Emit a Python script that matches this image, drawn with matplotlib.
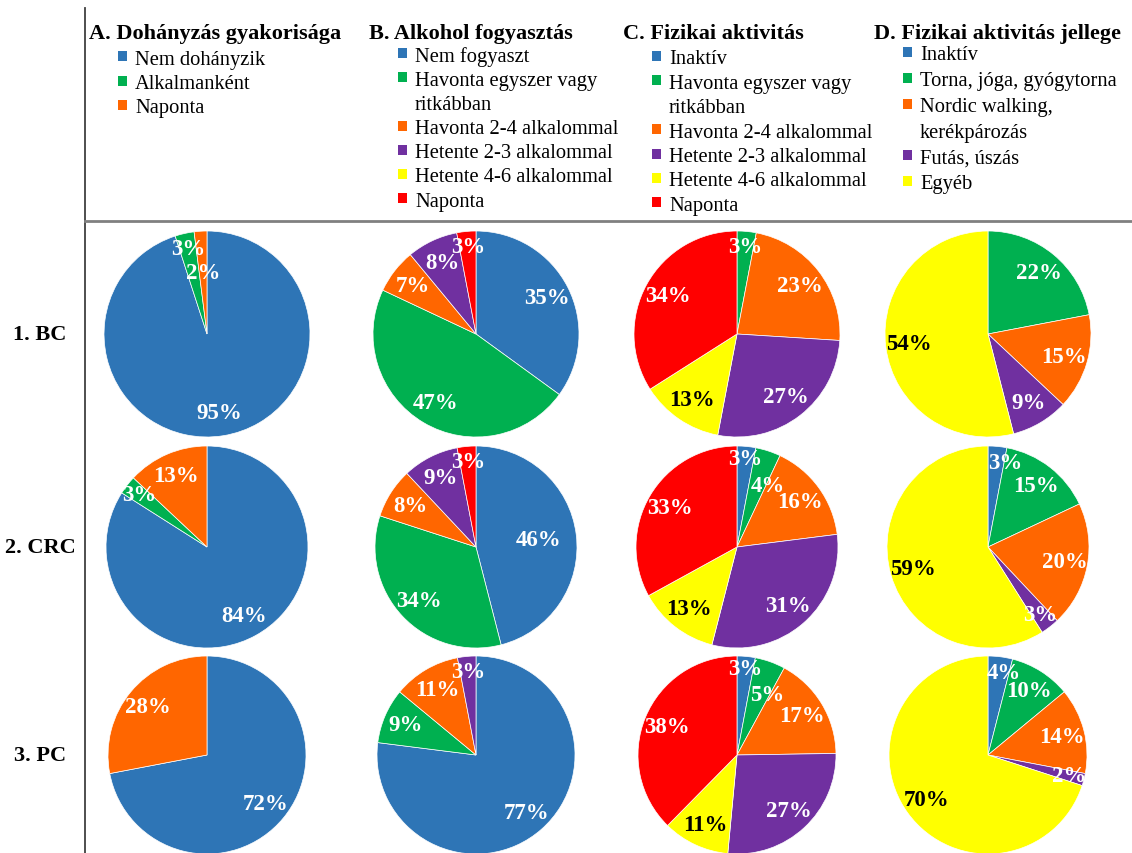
import numpy as np
import matplotlib
matplotlib.use('Agg')
import matplotlib.pyplot as plt
from matplotlib.patches import Rectangle

plt.rcParams['font.family'] = ['Liberation Serif', 'DejaVu Serif']

W, H = 1132, 854

BLUE = '#2E75B6'
GREEN = '#00B050'
ORANGE = '#FF6600'
PURPLE = '#7030A0'
YELLOW = '#FFFF00'
RED = '#FF0000'

groups = ['1. BC', '2. CRC', '3. PC']

# A - smoking
smoking_title = 'A. Dohányzás gyakorisága'
smoking_labels = ['Nem dohányzik', 'Alkalmanként', 'Naponta']
smoking = [[95, 3, 2], [84, 3, 13], [72, 0, 28]]

# B - alcohol
alcohol_title = 'B. Alkohol fogyasztás'
alcohol_labels = ['Nem fogyaszt', 'Havonta egyszer vagy\nritkábban',
                  'Havonta 2-4 alkalommal', 'Hetente 2-3 alkalommal',
                  'Hetente 4-6 alkalommal', 'Naponta']
alcohol = [[35, 47, 7, 8, 0, 3], [46, 34, 8, 9, 0, 3], [77, 9, 11, 3, 0, 0]]

# C - physical activity
activity_title = 'C. Fizikai aktivitás'
activity_labels = ['Inaktív', 'Havonta egyszer vagy\nritkábban',
                   'Havonta 2-4 alkalommal', 'Hetente 2-3 alkalommal',
                   'Hetente 4-6 alkalommal', 'Naponta']
activity = [[0, 3, 23, 27, 13, 34], [3, 4, 16, 31, 13, 33], [3, 5, 17, 27, 11, 38]]

# D - type of activity
type_title = 'D. Fizikai aktivitás jellege'
type_labels = ['Inaktív', 'Torna, jóga, gyógytorna', 'Nordic walking,\nkerékpározás',
               'Futás, úszás', 'Egyéb']
activity_type = [[0, 22, 15, 9, 54], [3, 15, 20, 3, 59], [4, 10, 14, 2, 70]]

panels = [
    (smoking_title, smoking_labels, smoking, [BLUE, GREEN, ORANGE]),
    (alcohol_title, alcohol_labels, alcohol, [BLUE, GREEN, ORANGE, PURPLE, YELLOW, RED]),
    (activity_title, activity_labels, activity, [BLUE, GREEN, ORANGE, PURPLE, YELLOW, RED]),
    (type_title, type_labels, activity_type, [BLUE, GREEN, ORANGE, PURPLE, YELLOW]),
]

# layout in pixels (origin top left)
col_x = [207, 476, 737, 988]
row_y = [335, 548, 756]
row_r = [103, 101, 99]
title_x = [89, 369, 623, 874]
legend_top = [60, 57, 60, 56]
legend_step = [24.5, 24.2, 24.4, 25.8]

# label placement tweaks (row, col, slice index) -> (fraction of radius, angle shift in deg)
label_pos = {(0, 0, 2): (0.6, 0), (1, 1, 0): (0.62, 0),
             (1, 2, 0): (0.88, 0), (1, 2, 1): (0.68, -9),
             (2, 2, 0): (0.88, 0), (2, 2, 1): (0.68, -7),
             (1, 3, 0): (0.85, -6), (2, 3, 0): (0.85, -4)}

fig = plt.figure(figsize=(W / 100, H / 100), dpi=100)
bg = fig.add_axes([0, 0, 1, 1])
bg.set_xlim(0, W)
bg.set_ylim(H, 0)
bg.axis('off')

# frame lines
bg.plot([85, 85], [9, H], color='#404040', lw=1.3)
bg.plot([85, W], [222, 222], color='#808080', lw=2)

# legends
for c, (title, labels, data, colors) in enumerate(panels):
    bg.text(title_x[c], 34, title, fontsize=16, fontweight='bold',
            ha='left', va='center')
    sq_x = title_x[c] + 29
    line = 0
    for lab, col in zip(labels, colors):
        for k, part in enumerate(lab.split('\n')):
            y = legend_top[c] + line * legend_step[c]
            if k == 0:
                bg.add_patch(Rectangle((sq_x, y - 8), 9, 10, color=col, lw=0))
            bg.text(sq_x + 17, y, part, fontsize=14.8, ha='left', va='center')
            line += 1

# row labels
for r, g in enumerate(groups):
    bg.text(40, row_y[r], g, fontsize=16, fontweight='bold', ha='center', va='center')

# pies
for c, (title, labels, data, colors) in enumerate(panels):
    for r in range(3):
        cx, cy, rad = col_x[c], row_y[r], row_r[r]
        ax = fig.add_axes([(cx - rad) / W, 1 - (cy + rad) / H, 2 * rad / W, 2 * rad / H])
        idx = [i for i, v in enumerate(data[r]) if v > 0]
        vals = [data[r][i] for i in idx]
        wedges, _ = ax.pie(vals, colors=[colors[i] for i in idx], startangle=90,
                           counterclock=False, radius=1,
                           wedgeprops=dict(edgecolor='white', linewidth=0.5))
        ax.set_xlim(-1, 1)
        ax.set_ylim(-1, 1)
        for w, i, v in zip(wedges, idx, vals):
            d, shift = label_pos.get((r, c, i), (0.85 if v <= 5 else 0.77, 0))
            ang = np.deg2rad((w.theta1 + w.theta2) / 2 + shift)
            ax.text(d * np.cos(ang), d * np.sin(ang), f'{v}%',
                    color='black' if colors[i] == YELLOW else 'white',
                    fontsize=16.5, fontweight='bold', ha='center', va='center')

fig.savefig('out.png', dpi=100)
